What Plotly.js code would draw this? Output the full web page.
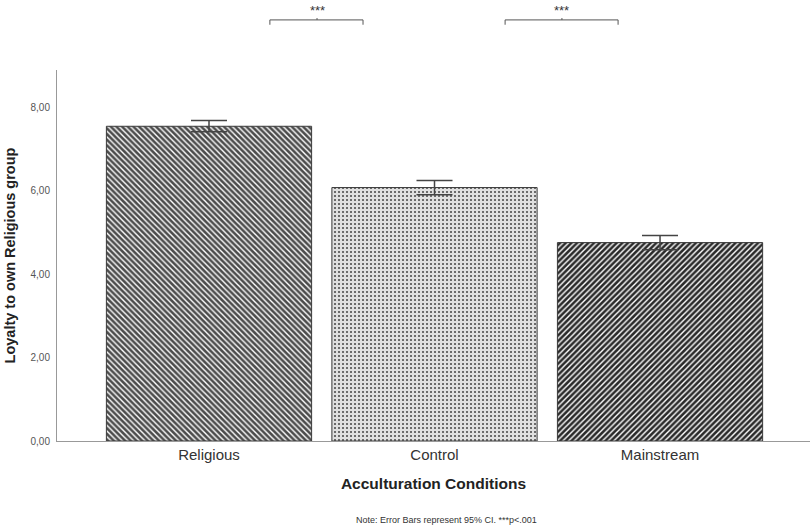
<!DOCTYPE html>
<html>
<head>
<meta charset="utf-8">
<script src="https://cdn.plot.ly/plotly-3.0.1.min.js"></script>
<style>html,body{margin:0;padding:0;background:#fff;}#chart{width:812px;height:527px;}</style>
</head>
<body>
<div id="chart"></div>
<script>
var categories = ["Religious", "Control", "Mainstream"];
var means = [7.55, 6.08, 4.76];
var ciUpper = [0.14, 0.17, 0.17];
var ciLower = [0.13, 0.17, 0.17];
var yTicks = [0, 2, 4, 6, 8];
var comparisons = [
  {from: 0.27, to: 0.683, mid: 0.479, label: "***"},
  {from: 1.313, to: 1.814, mid: 1.565, label: "***"}
];

var font = "Liberation Sans, Arial, sans-serif";

var trace = {
  type: "bar",
  x: [0, 1, 2],
  y: means,
  width: 0.91,
  marker: {
    color: ["#4c4c4c", "#e0e0e0", "#2a2a2a"],
    line: {color: "#3a3a3a", width: 1},
    pattern: {
      shape: ["\\", ".", "/"],
      fgcolor: ["#8e8e8e", "#bcbcbc", "#555555"],
      fgopacity: 1,
      size: [4, 4, 4],
      solidity: [0.35, 0.2, 0.35],
      fillmode: "overlay"
    }
  },
  error_y: {
    type: "data",
    symmetric: false,
    array: ciUpper,
    arrayminus: ciLower,
    color: "#444",
    thickness: 1.5,
    width: 18
  },
  hoverinfo: "skip"
};

var shapes = [];
var annotations = [];
comparisons.forEach(function (c) {
  shapes.push({type: "line", xref: "x", yref: "paper", x0: c.from, x1: c.to, y0: 1.135, y1: 1.135, line: {color: "#555", width: 1}});
  shapes.push({type: "line", xref: "x", yref: "paper", x0: c.from, x1: c.from, y0: 1.135, y1: 1.122, line: {color: "#555", width: 1}});
  shapes.push({type: "line", xref: "x", yref: "paper", x0: c.to, x1: c.to, y0: 1.135, y1: 1.122, line: {color: "#555", width: 1}});
  shapes.push({type: "line", xref: "x", yref: "paper", x0: c.mid, x1: c.mid, y0: 1.135, y1: 1.14, line: {color: "#555", width: 1}});
  annotations.push({xref: "x", yref: "paper", x: c.mid, y: 1.16, yanchor: "middle", text: c.label, showarrow: false, font: {family: font, size: 13, color: "#333"}});
});
annotations.push({xref: "paper", yref: "paper", x: 0.517, y: -0.213, yanchor: "middle", text: "Note: Error Bars represent 95% CI. ***p<.001", showarrow: false, font: {family: font, size: 9, color: "#333"}});

var layout = {
  width: 812,
  height: 527,
  margin: {l: 57, r: 2, t: 70, b: 86},
  paper_bgcolor: "#fff",
  plot_bgcolor: "#fff",
  separators: ",.",
  showlegend: false,
  font: {family: font},
  xaxis: {
    range: [-0.674, 2.665],
    tickmode: "array",
    tickvals: [0, 1, 2],
    ticktext: categories,
    tickfont: {family: font, size: 15, color: "#333"},
    showline: true,
    linecolor: "#999",
    linewidth: 1,
    ticks: "",
    showgrid: false,
    zeroline: false,
    title: {text: "<b>Acculturation Conditions</b>", font: {family: font, size: 15.5, color: "#222"}, standoff: 16}
  },
  yaxis: {
    range: [0, 8.9],
    tickmode: "array",
    tickvals: yTicks,
    tickformat: ".2f",
    tickfont: {family: font, size: 10, color: "#555"},
    showline: true,
    linecolor: "#999",
    linewidth: 1,
    ticks: "",
    showgrid: false,
    zeroline: false,
    ticklabelstandoff: 4,
    title: {text: "<b>Loyalty to own Religious group</b>", font: {family: font, size: 14.5, color: "#222"}, standoff: 11}
  },
  shapes: shapes,
  annotations: annotations
};

Plotly.newPlot("chart", [trace], layout, {displayModeBar: false, staticPlot: true});
</script>
</body>
</html>
